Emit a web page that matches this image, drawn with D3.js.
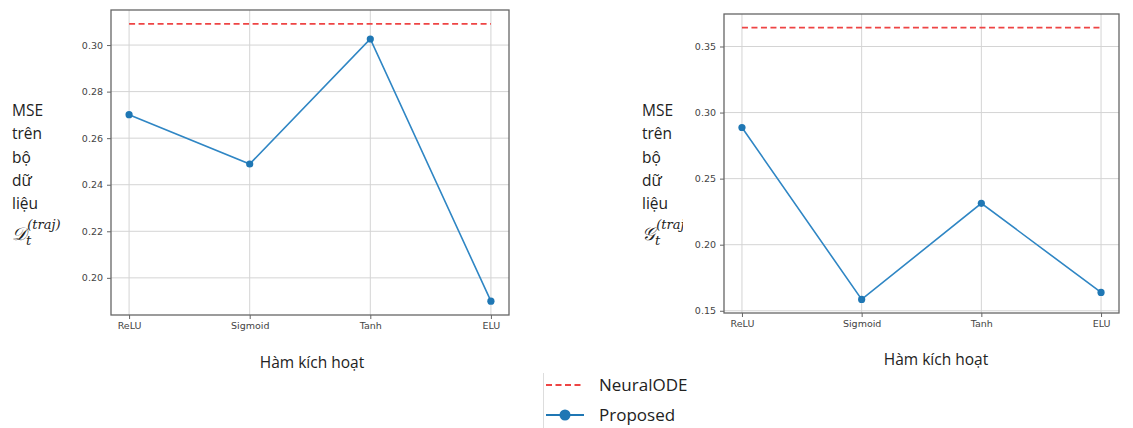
<!DOCTYPE html>
<html>
<head>
<meta charset="utf-8">
<script src="https://cdn.jsdelivr.net/npm/d3@7"></script>
<style>
  body { margin: 0; background: #fff; }
  svg { display: block; }
  .tick text { font-family: 'DejaVu Sans', sans-serif; fill: #444; }
  .lbl { font-family: 'Open Sans', 'Noto Sans', sans-serif; fill: #222; }
  .math { font-family: 'DejaVu Serif', serif; font-style: italic; fill: #222; }
</style>
</head>
<body>
<div id="chart"></div>
<script>
const width = 1133;
const height = 428;

// activation functions on the x axis
const activations = ['ReLU', 'Sigmoid', 'Tanh', 'ELU'];

// D_t^(traj) dataset
const proposedD = [0.2701, 0.2489, 0.3026, 0.1900];
const neuralOdeD = 0.3091;
const ticksD = [0.20, 0.22, 0.24, 0.26, 0.28, 0.30];

// G_t^(traj) dataset
const proposedG = [0.2887, 0.1586, 0.2313, 0.1639];
const neuralOdeG = 0.3643;
const ticksG = [0.15, 0.20, 0.25, 0.30, 0.35];

const blue = '#1f77b4';
const red = '#ee4444';

const svg = d3.select('#chart').append('svg')
  .attr('width', width).attr('height', height);

function panel(box, values, ref, ticks, letter, lblX, xlabY, xlabX, clipW) {
  const g = svg.append('g');
  const lo = Math.min(d3.min(values), ref), hi = Math.max(d3.max(values), ref);
  const m = (hi - lo) * 0.05;
  const x = d3.scaleLinear().domain([-0.15, activations.length - 1 + 0.15]).range([box.x0, box.x1]);
  const y = d3.scaleLinear().domain([lo - m, hi + m]).range([box.y1, box.y0]);

  // grid
  g.append('g').selectAll('line').data(ticks).join('line')
    .attr('x1', box.x0).attr('x2', box.x1)
    .attr('y1', d => y(d)).attr('y2', d => y(d))
    .attr('stroke', '#d4d4d4').attr('stroke-width', 1);
  g.append('g').selectAll('line').data(activations).join('line')
    .attr('x1', (d, i) => x(i)).attr('x2', (d, i) => x(i))
    .attr('y1', box.y0).attr('y2', box.y1)
    .attr('stroke', '#d4d4d4').attr('stroke-width', 1);

  // axes
  const ax = g.append('g')
    .attr('transform', `translate(0, ${box.y1})`)
    .call(d3.axisBottom(x).tickValues(d3.range(activations.length))
      .tickFormat(i => activations[i]).tickSize(4).tickPadding(3));
  const ay = g.append('g')
    .attr('transform', `translate(${box.x0}, 0)`)
    .call(d3.axisLeft(y).tickValues(ticks).tickFormat(d3.format('.2f')).tickSize(4).tickPadding(4));
  [ax, ay].forEach(a => {
    a.select('.domain').remove();
    a.selectAll('.tick line').attr('stroke', '#666');
    a.selectAll('.tick text').attr('font-size', 9.5);
  });

  // frame
  g.append('rect')
    .attr('x', box.x0).attr('y', box.y0)
    .attr('width', box.x1 - box.x0).attr('height', box.y1 - box.y0)
    .attr('fill', 'none').attr('stroke', '#666').attr('stroke-width', 1.3);

  // NeuralODE reference
  g.append('line')
    .attr('x1', x(0)).attr('x2', x(activations.length - 1))
    .attr('y1', y(ref)).attr('y2', y(ref))
    .attr('stroke', red).attr('stroke-width', 1.6)
    .attr('stroke-dasharray', '6,3.5');

  // Proposed
  const line = d3.line().x((d, i) => x(i)).y(d => y(d));
  g.append('path').datum(values)
    .attr('d', line).attr('fill', 'none')
    .attr('stroke', '#2f86c4').attr('stroke-width', 1.6);
  g.append('g').selectAll('circle').data(values).join('circle')
    .attr('cx', (d, i) => x(i)).attr('cy', d => y(d)).attr('r', 3.6)
    .attr('fill', blue);

  // y label
  const yl = g.append('g');
  if (clipW) {
    svg.append('clipPath').attr('id', 'clip' + letter.codePointAt(0))
      .append('rect').attr('x', lblX - 5).attr('y', 80).attr('width', clipW).attr('height', 200);
    yl.attr('clip-path', `url(#clip${letter.codePointAt(0)})`);
  }
  ['MSE', 'trên', 'bộ', 'dữ', 'liệu'].forEach((w, i) => {
    yl.append('text').attr('class', 'lbl')
      .attr('x', lblX).attr('y', 116 + i * 23.3)
      .attr('font-size', 15.5).text(w);
  });
  const mt = yl.append('text').attr('class', 'math').attr('x', lblX).attr('y', 240).attr('font-size', 18);
  mt.append('tspan').text(letter);
  mt.append('tspan').attr('font-size', 13).attr('dy', 5).text('t');
  mt.append('tspan').attr('font-size', 13).attr('dx', -4).attr('dy', -16).text('(traj)');

  // x label
  g.append('text').attr('class', 'lbl')
    .attr('x', xlabX).attr('y', xlabY)
    .attr('text-anchor', 'middle').attr('font-size', 15.5)
    .text('Hàm kích hoạt');
}

panel({x0: 111, x1: 509, y0: 10, y1: 315}, proposedD, neuralOdeD, ticksD, '𝒟', 12, 368, 312, 0);
panel({x0: 724, x1: 1119, y0: 14, y1: 313}, proposedG, neuralOdeG, ticksG, '𝒢', 642, 365, 936, 46);

// legend
const lg = svg.append('g');
lg.append('line').attr('x1', 543.5).attr('x2', 543.5).attr('y1', 373).attr('y2', 428)
  .attr('stroke', '#ddd');
const items = [
  {name: 'NeuralODE', color: red, dash: '6,3.5', marker: false},
  {name: 'Proposed', color: blue, dash: null, marker: true}
];
items.forEach((it, i) => {
  const yy = 385 + i * 30;
  lg.append('line').attr('x1', 546).attr('x2', 584).attr('y1', yy).attr('y2', yy)
    .attr('stroke', it.color).attr('stroke-width', 2.2)
    .attr('stroke-dasharray', it.dash);
  if (it.marker) lg.append('circle').attr('cx', 565).attr('cy', yy).attr('r', 5.5).attr('fill', it.color);
  lg.append('text').attr('class', 'lbl').attr('x', 599).attr('y', yy + 6)
    .attr('font-size', 17).attr('fill', '#333').text(it.name);
});
</script>
</body>
</html>
